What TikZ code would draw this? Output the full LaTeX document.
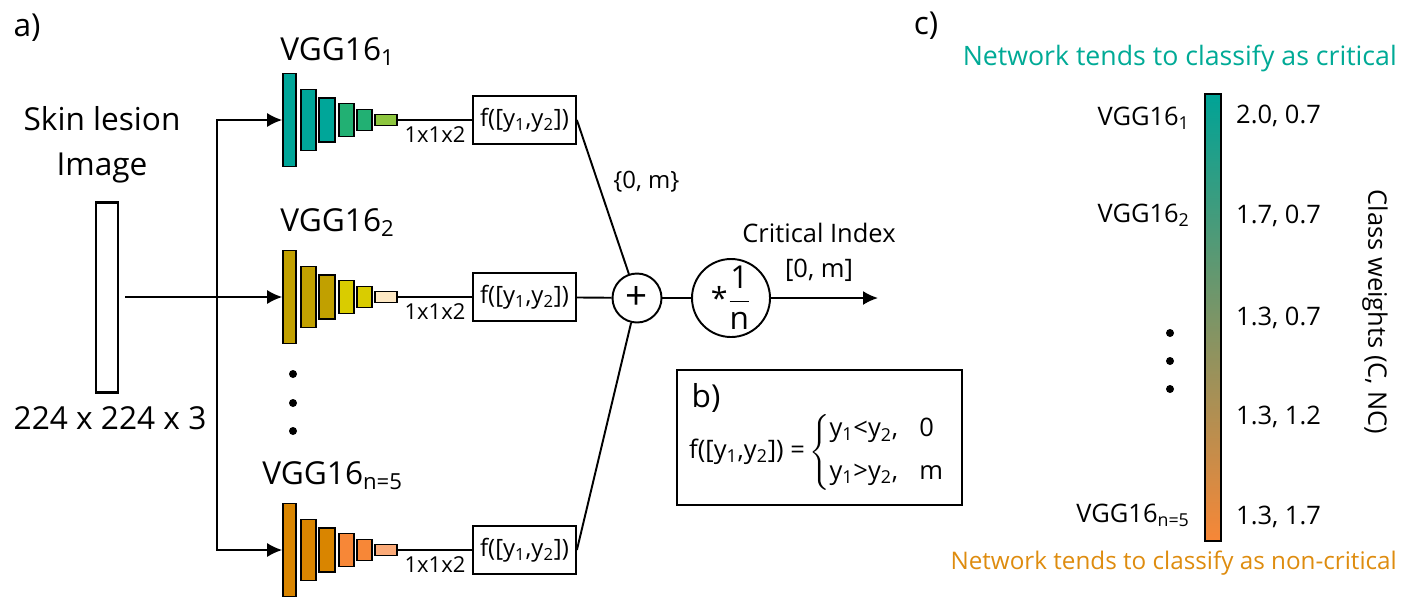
\documentclass[tikz,border=0pt]{standalone}
\usepackage{fontspec}
\setmainfont{Open Sans}
\usepackage{amsmath}
\usetikzlibrary{arrows.meta}

\definecolor{tealA}{RGB}{0,166,153}
\definecolor{tealB}{RGB}{34,176,115}
\definecolor{tealC}{RGB}{141,198,63}
\definecolor{oliveA}{RGB}{193,160,0}
\definecolor{oliveB}{RGB}{217,204,0}
\definecolor{oliveC}{RGB}{253,232,196}
\definecolor{amberA}{RGB}{217,133,0}
\definecolor{amberB}{RGB}{247,135,55}
\definecolor{amberC}{RGB}{251,170,120}
\definecolor{barTop}{RGB}{0,163,150}
\definecolor{barMid}{RGB}{128,152,106}
\definecolor{barBot}{RGB}{247,135,55}
\definecolor{critText}{RGB}{0,170,150}
\definecolor{noncritText}{RGB}{222,140,15}

\newcommand{\px}{0.02cm}
\newcommand{\bigfont}{\fontsize{18}{25.6}\selectfont}
\newcommand{\midfont}{\fontsize{14.5}{17}\selectfont}
\newcommand{\smallfont}{\fontsize{12.5}{15}\selectfont}
\newcommand{\boxfont}{\fontsize{13.6}{16}\selectfont}

\begin{document}
\begin{tikzpicture}[x=0.02cm, y=-0.02cm,
	blk/.style={draw, line width=0.9pt, inner sep=0pt},
	fbox/.style={draw, line width=1pt, minimum width=103*\px, minimum height=48*\px, inner sep=0pt, font=\boxfont},
	ln/.style={line width=1.1pt},
	arr/.style={line width=1.1pt, -{Latex[length=0.3cm, width=0.28cm]}},
	dot/.style={circle, fill, inner sep=0pt, minimum size=8*\px}]

	\useasboundingbox (0,0) rectangle (1405,603);

	% a) input
	\node (la) [font=\bigfont] at (27,28) {a)};
	\node (skin) [font=\bigfont, align=center] at (102,145) {Skin lesion\\Image};
	\node (img) [draw, line width=1.7pt, minimum width=22*\px, minimum height=190*\px, inner sep=0pt] at (107,297) {};
	\node (size) [font=\bigfont] at (110,418) {224 x 224 x 3};
	\coordinate (split) at (217,297);

	% VGG16 rows
	\foreach \row/\y/\ca/\cb/\cc in {1/120/tealA/tealB/tealC, 2/297/oliveA/oliveB/oliveC, 3/550/amberA/amberB/amberC} {
		\foreach \bx/\bw/\bh/\bc [count=\k] in {289.5/13/93/\ca, 308.5/15/61/\ca, 327/16/44/\ca, 346.5/15/33/\cb, 364.5/15/21/\cb, 386/22/11/\cc}
			\node (b\row\k) [blk, fill=\bc, minimum width=\bw*\px, minimum height=\bh*\px] at (\bx,\y) {};
		\node (f\row) [fbox] at (524.5,\y) {f([y\textsubscript{1},y\textsubscript{2}])};
		\path[ln] (b\row6) edge node[below, font=\smallfont] {1x1x2} (f\row);
	}
	\node (v1) [font=\bigfont, anchor=base west, inner sep=0pt] at (280,60) {VGG16\textsubscript{1}};
	\node (v2) [font=\bigfont, anchor=base west, inner sep=0pt] at (280,231) {VGG16\textsubscript{2}};
	\node (v3) [font=\bigfont, anchor=base west, inner sep=0pt] at (262,484) {VGG16\textsubscript{n=5}};
	\node (d1) [dot] at (293,374) {};
	\node (d2) [dot] at (293,403) {};
	\node (d3) [dot] at (293,431) {};

	\draw[arr] ([xshift=6*\px]img.east) -- (b21.west);
	\draw[arr] (split) |- (b11.west);
	\draw[arr] (split) |- (b31.west);

	% sum and scaling
	\node (plus) [draw, circle, line width=1.1pt, minimum size=49*\px, inner sep=0pt, font=\fontsize{22}{24}\selectfont] at (637,298) {+};
	\node (times) [draw, circle, line width=1.1pt, minimum size=78*\px, inner sep=0pt, font=\bigfont] at (731,298) {\text{\LARGE *}$\dfrac{\text{1}}{\text{n}}$};
	\coordinate (out) at (878,298);
	\node (crit) [font=\midfont] at (819,233) {Critical Index};
	\node (range) [font=\midfont] at (819,270) {[0, m]};

	\path[ln]
	(f1.east) edge node[pos=0.4, right=5pt, font=\boxfont] {\{0, m\}} (plus)
	(f2) edge (plus)
	(f3.east) edge (plus)
	(plus) edge (times);
	\draw[arr] (times) -- (out);

	% b) rule
	\node (bbox) [draw, line width=1pt, minimum width=285*\px, minimum height=135*\px] at (819.5,437.5) {};
	\node (lb) [font=\bigfont] at (706,398) {b)};
	\node (rule) [font=\midfont, anchor=west] at (683,452) {f([y\textsubscript{1},y\textsubscript{2}]) =\,$\left\{\begin{tabular}{@{}l@{\hspace{12pt}}l@{}}y\textsubscript{1}<y\textsubscript{2}, & 0\\[7pt] y\textsubscript{1}>y\textsubscript{2}, & m\end{tabular}\right.$};

	% c) class weights
	\node (lc) [font=\bigfont] at (926,26) {c)};
	\node (tcrit) [font=\fontsize{15.2}{18}\selectfont, text=critText, anchor=east] at (1403,58) {Network tends to classify as critical};
	\node (tnon) [font=\fontsize{13.8}{17}\selectfont, text=noncritText, anchor=east] at (1403,563) {Network tends to classify as non-critical};
	\node (cbar) [draw, line width=1.4pt, top color=barTop, middle color=barMid, bottom color=barBot, minimum width=16*\px, minimum height=447*\px, inner sep=0pt] at (1213,317.5) {};

	\node (c1) [font=\midfont, anchor=base east] at (1196,125) {VGG16\textsubscript{1}};
	\node (c2) [font=\midfont, anchor=base east] at (1196,222) {VGG16\textsubscript{2}};
	\node (c3) [font=\midfont, anchor=base east] at (1196,522) {VGG16\textsubscript{n=5}};
	\node (e1) [dot] at (1170,333) {};
	\node (e2) [dot] at (1170,361) {};
	\node (e3) [dot] at (1170,389) {};

	\node (w1) [font=\midfont, anchor=base west] at (1230,123) {2.0, 0.7};
	\node (w2) [font=\midfont, anchor=base west] at (1230,223) {1.7, 0.7};
	\node (w3) [font=\midfont, anchor=base west] at (1230,325) {1.3, 0.7};
	\node (w4) [font=\midfont, anchor=base west] at (1230,424) {1.3, 1.2};
	\node (w5) [font=\midfont, anchor=base west] at (1230,524) {1.3, 1.7};
	\node (axis) [font=\midfont, rotate=-90] at (1375,312) {Class weights (C, NC)};

\end{tikzpicture}
\end{document}
